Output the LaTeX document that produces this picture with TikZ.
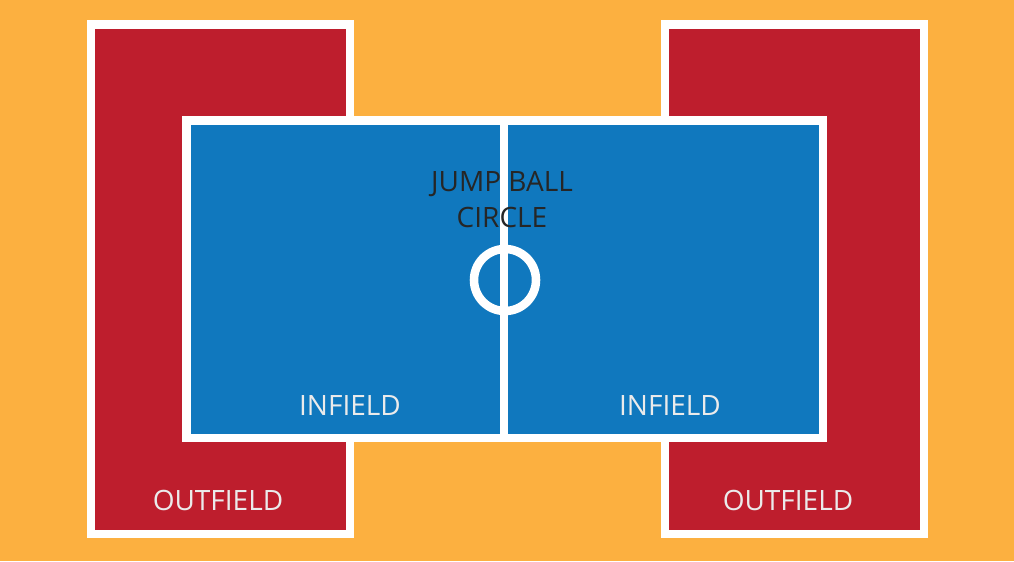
\documentclass[tikz,border=0pt]{standalone}
\usepackage{fontspec}
\setmainfont{Open Sans}
\definecolor{bg}{HTML}{FCB040}
\definecolor{red1}{HTML}{BE1E2D}
\definecolor{blue1}{HTML}{1078BE}
\begin{document}
\begin{tikzpicture}[x=0.75pt,y=-0.75pt,
  field/.style={draw=white,line width=6.4pt},
  lbl/.style={text=white!92!black,font=\fontsize{21}{24}\selectfont},
  dlbl/.style={text=black!85,font=\fontsize{21}{27}\selectfont,align=center}]
\fill[bg] (0,0) rectangle (1014,561);
\useasboundingbox (0,0) rectangle (1014,561);
\draw[field,fill=red1] (91,24.5) rectangle (350,534) coordinate (lo);
\draw[field,fill=red1] (665,24.5) rectangle (924,534) coordinate (ro);
\draw[field,fill=blue1] (186.5,120.5) rectangle (823,438);
\draw[draw=white,line width=6.4pt] (504,120.5) coordinate (t) -- (504,438) coordinate (b);
\node[circle,draw=white,line width=6.4pt,minimum size=62*0.75pt,inner sep=0pt] (c) at (505,280) {};
\node[dlbl] (jb) at (502,200) {JUMP BALL\\CIRCLE};
\node[lbl] (i1) at (350,405) {INFIELD};
\node[lbl] (i2) at (670,405) {INFIELD};
\node[lbl] (o1) at (218,500) {OUTFIELD};
\node[lbl] (o2) at (788,500) {OUTFIELD};
\end{tikzpicture}
\end{document}
